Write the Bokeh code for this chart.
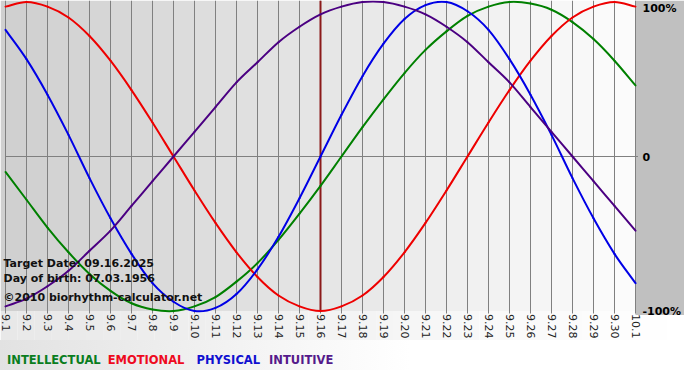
import math
import numpy as np
from bokeh.plotting import figure
from bokeh.models import Range1d, Label, Div
from bokeh.layouts import column
from bokeh.core.properties import value
from bokeh.embed import file_html
from bokeh.resources import INLINE

# ---------------- data ----------------
dates = ["9.1", "9.2", "9.3", "9.4", "9.5", "9.6", "9.7", "9.8", "9.9", "9.10",
         "9.11", "9.12", "9.13", "9.14", "9.15", "9.16", "9.17", "9.18", "9.19", "9.20",
         "9.21", "9.22", "9.23", "9.24", "9.25", "9.26", "9.27", "9.28", "9.29", "9.30",
         "10.1"]

intellectual = [-0.10, -0.28, -0.46, -0.62, -0.76, -0.87, -0.95, -0.99, -1.00, -0.97,
                -0.91, -0.81, -0.69, -0.54, -0.37, -0.19, 0.00, 0.19, 0.37, 0.54,
                0.69, 0.81, 0.91, 0.97, 1.00, 0.99, 0.95, 0.87, 0.76, 0.62,
                0.46]
emotional = [0.97, 1.00, 0.97, 0.90, 0.78, 0.62, 0.43, 0.22, 0.00, -0.22,
             -0.43, -0.62, -0.78, -0.90, -0.97, -1.00, -0.97, -0.90, -0.78, -0.62,
             -0.43, -0.22, 0.00, 0.22, 0.43, 0.62, 0.78, 0.90, 0.97, 1.00,
             0.97]
physical = [0.82, 0.63, 0.40, 0.14, -0.14, -0.40, -0.63, -0.82, -0.94, -1.00,
            -0.98, -0.89, -0.73, -0.52, -0.27, 0.00, 0.27, 0.52, 0.73, 0.89,
            0.98, 1.00, 0.94, 0.82, 0.63, 0.40, 0.14, -0.14, -0.40, -0.63,
            -0.82]
intuitive = [-0.97, -0.92, -0.84, -0.74, -0.61, -0.48, -0.32, -0.16, 0.00, 0.16,
             0.32, 0.48, 0.61, 0.74, 0.84, 0.92, 0.97, 1.00, 1.00, 0.97,
             0.92, 0.84, 0.74, 0.61, 0.48, 0.32, 0.16, 0.00, -0.16, -0.32,
             -0.48]

series_names = ["INTELLECTUAL", "EMOTIONAL", "PHYSICAL", "INTUITIVE"]
target_date = "9.16"
y_ticks = [1, 0, -1]
y_tick_labels = ["100%", "0", "-100%"]
info_lines = ["Target Date: 09.16.2025", "Day of birth: 07.03.1956",
              "\u00a92010 biorhythm-calculator.net"]

# ---------------- styling ----------------
line_colors = ["#008000", "#ee0000", "#0000e6", "#4b0082"]
legend_colors = ["#0a7d1e", "#ee0a1e", "#1010d0", "#551a8b"]
FONT = "DejaVu Sans"

W, H = 684, 340
LEFT_PAD = 5
RIGHT_PANEL = 49
PLOT_W = W - LEFT_PAD - RIGHT_PANEL
PX_PER_UNIT = 154.5
TOP_PAD = 1.5

x = np.arange(len(dates))
n_int = len(dates) - 1
px_per_day = PLOT_W / n_int
x_start = -LEFT_PAD / px_per_day
x_end = n_int + RIGHT_PANEL / px_per_day
y_top = 1 + TOP_PAD / PX_PER_UNIT
y_bot = 1 - (H - TOP_PAD) / PX_PER_UNIT


def py(px):
    return 1 - (px - TOP_PAD) / PX_PER_UNIT


def gray(v):
    v = int(round(v))
    return "#%02x%02x%02x" % (v, v, v)


p = figure(width=W, height=H, x_range=Range1d(x_start, x_end), y_range=Range1d(y_bot, y_top),
           output_backend="svg", toolbar_location=None, min_border=0,
           x_axis_location=None, y_axis_location=None)
p.grid.visible = False
p.outline_line_color = None
p.background_fill_color = "#ffffff"
p.border_fill_color = "#ffffff"

# label-area background (light gradient)
nb = 40
edges = np.linspace(x_start, x_end, nb + 1)
p.quad(left=edges[:-1], right=edges[1:], bottom=y_bot, top=-1,
       fill_color=[gray(232 + 23 * i / (nb - 1)) for i in range(nb)], line_color=None)

# plot-area gradient bands
band_cols = [gray(208 + 43 * i / (n_int - 1)) for i in range(n_int)]
p.quad(left=[x_start], right=[0], bottom=[-1], top=[y_top], fill_color=band_cols[0], line_color=None)
p.quad(left=x[:-1], right=x[1:], bottom=-1, top=y_top,
       fill_color=band_cols, line_color=None)

# right grey panel
p.quad(left=[n_int], right=[x_end], bottom=[py(314.5)], top=[y_top],
       fill_color="#c0c0c0", line_color=None)

# vertical grid lines / ticks
p.segment(x0=x, y0=py(313), x1=x, y1=y_top, line_color="#808080", line_width=1)
# zero line
p.segment(x0=[0], y0=[0], x1=[n_int + 2.5 / px_per_day], y1=[0],
          line_color="#808080", line_width=1)

# target date line
ti = dates.index(target_date)
p.segment(x0=[ti], y0=[-1], x1=[ti], y1=[y_top], line_color="#8b1a1a", line_width=2)


# curves, drawn as smooth (Catmull-Rom) bezier pieces through the daily values
def smooth(px_, py_):
    px_ = np.asarray(px_, float)
    py_ = np.asarray(py_, float)
    ex = np.concatenate([[2 * px_[0] - px_[1]], px_, [2 * px_[-1] - px_[-2]]])
    ey = np.concatenate([[2 * py_[0] - py_[1]], py_, [2 * py_[-1] - py_[-2]]])
    x0, y0 = ex[1:-2], ey[1:-2]
    x1, y1 = ex[2:-1], ey[2:-1]
    cx0 = x0 + (ex[2:-1] - ex[:-3]) / 6
    cy0 = y0 + (ey[2:-1] - ey[:-3]) / 6
    cx1 = x1 - (ex[3:] - ex[1:-2]) / 6
    cy1 = y1 - (ey[3:] - ey[1:-2]) / 6
    return dict(x0=x0, y0=y0, x1=x1, y1=y1, cx0=cx0, cy0=cy0, cx1=cx1, cy1=cy1)


for vals, col in zip([intellectual, emotional, physical, intuitive], line_colors):
    p.bezier(**smooth(x, vals), line_color=col, line_width=2, line_cap="round")

# x tick labels (rotated)
p.text(x=x, y=py(313.5), text=dates, angle=-math.pi / 2, text_align="left",
       text_baseline="middle", text_font=value(FONT), text_font_size="11px",
       text_color="#222222")

# right-side value labels
baselines = ["top", "middle", "middle"]
for yv, lab, bl in zip(y_ticks, y_tick_labels, baselines):
    p.add_layout(Label(x=n_int, y=yv, x_offset=7, text=lab, text_font=FONT,
                       text_font_size="11px", text_font_style="bold",
                       text_color="#000000", text_baseline=bl, text_align="left"))

# info text
for yv, lab in zip([-0.694, -0.7875, -0.9125], info_lines):
    p.add_layout(Label(x=x_start, y=yv, x_offset=3, text=lab, text_font=FONT,
                       text_font_size="11px", text_font_style="bold",
                       text_color="#111111", text_baseline="middle", text_align="left"))

# legend row
gaps = [7, 12, 9, 0]
spans = ('<div style="padding-top:10px;padding-left:7px;line-height:20px;white-space:nowrap">'
         + "".join('<span style="color:%s;margin-right:%dpx">%s</span>' % (c, g, n)
                   for n, c, g in zip(series_names, legend_colors, gaps))
         + "</div>")
legend = Div(text=spans, width=W, height=30, margin=(0, 0, 0, 0),
             styles={"font-family": FONT, "font-weight": "bold", "font-size": "11.5px",
                     "background": "linear-gradient(to right, #e2e2e2, #ffffff 60%)"})

layout = column(p, legend, spacing=0)

with open("out.html", "w", encoding="utf-8") as f:
    f.write(file_html(layout, INLINE))
